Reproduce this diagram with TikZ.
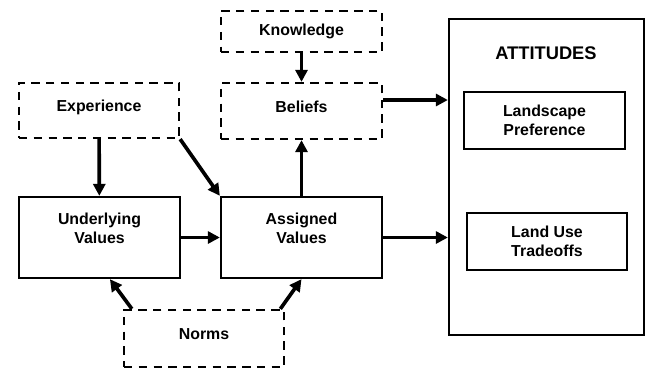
\documentclass[tikz,border=0pt]{standalone}
\usepackage{fontspec}
\setmainfont{Liberation Sans}
\usetikzlibrary{arrows.meta}
\tikzset{
	box/.style={draw,line width=1.6pt,align=center,font=\bfseries\fontsize{11.3}{13.5}\selectfont},
	dbox/.style={box,dash pattern=on 6pt off 4.5pt,text height=0.3cm,text depth=0.23cm},
	flow/.style={line width=2.6pt,-{Triangle[length=0.3cm,width=0.3cm]}}
}
\begin{document}
\begin{tikzpicture}[x=0.025cm,y=-0.025cm,line join=miter]
				\useasboundingbox (0,0) rectangle (649,371);
				\node[dbox,text height=,text depth=,minimum width=4.025cm,minimum height=1.025cm] (knowledge) at (301.5,31.5) {Knowledge};
				\node[dbox,minimum width=4cm,minimum height=1.375cm] (experience) at (99,110.5) {Experience};
				\node[dbox,minimum width=4.025cm,minimum height=1.4cm] (beliefs) at (301.5,111) {Beliefs};
				\node[box,minimum width=4.025cm,minimum height=2.025cm] (underlying) at (99.5,237.5) {Underlying\\Values\\\mbox{}};
				\node[box,minimum width=4.025cm,minimum height=2.025cm] (assigned) at (301.5,237.5) {Assigned\\Values\\\mbox{}};
				\node[dbox,minimum width=4cm,minimum height=1.425cm] (norms) at (204,338.5) {Norms};
				\node[box,minimum width=4.875cm,minimum height=7.9cm] (attitudes) at (546.5,177) {};
				\node[font=\bfseries\fontsize{13}{15}\selectfont] (atttitle) at (546,53) {ATTITUDES};
				\node[box,minimum width=4.025cm,minimum height=1.425cm] (preference) at (544.5,120.5) {Landscape\\Preference};
				\node[box,minimum width=4cm,minimum height=1.425cm] (tradeoffs) at (547,241.5) {Land Use\\Tradeoffs};
				\draw[flow] (knowledge) -- (beliefs);
				\draw[flow] (experience) -- (underlying);
				\draw[flow] (experience.south east) -- (assigned.north west);
				\draw[flow] (assigned) -- (beliefs);
				\draw[flow] ([yshift=0.275cm]beliefs.east) -- ([yshift=0.275cm]beliefs.east -| attitudes.west);
				\draw[flow] (underlying) -- (assigned);
				\draw[flow] (assigned.east) -- (assigned.east -| attitudes.west);
				\draw[flow] ([xshift=0.225cm]norms.north west) -- ([xshift=0.26cm]underlying.south);
				\draw[flow] ([xshift=-0.12cm]norms.north east) -- (assigned.south);
			\end{tikzpicture}
\end{document}
